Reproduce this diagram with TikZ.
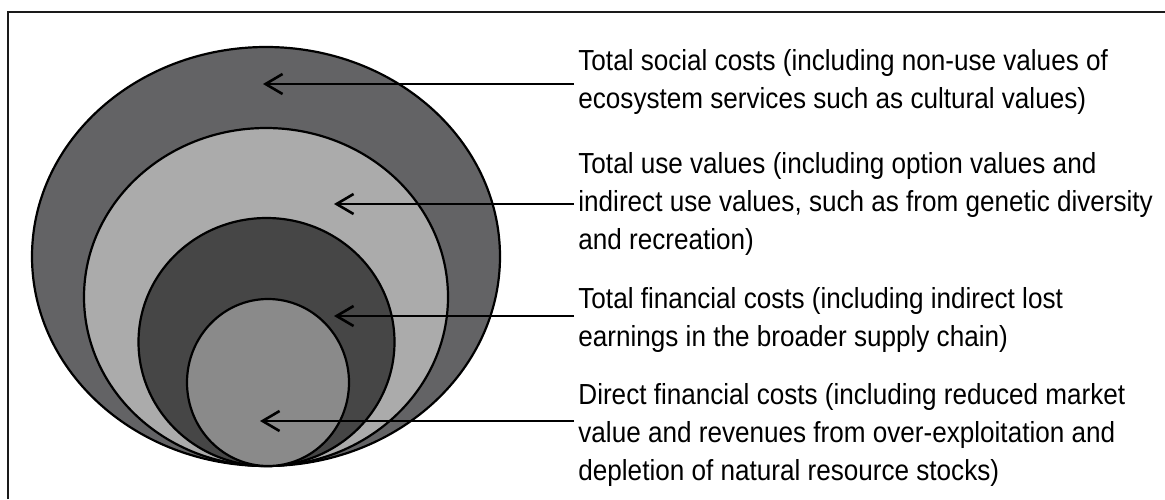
\documentclass[tikz,border=0pt]{standalone}
\usepackage{fontspec}
\newfontfamily\labelfont{Liberation Sans}[FakeStretch=0.9]
\usetikzlibrary{arrows.meta,positioning,shapes.geometric}
\definecolor{ringsocial}{HTML}{636365}
\definecolor{ringuse}{HTML}{ABABAB}
\definecolor{ringtotal}{HTML}{464646}
\definecolor{ringdirect}{HTML}{8A8A8A}
\definecolor{bk90}{HTML}{1A1A1A}
\tikzset{
  ring/.style={
    ellipse, draw=black, fill=#1, line width=1.1pt,
    inner sep=0pt
  },
  ring/.default=ringsocial,
  costlabel/.style={
    font=\labelfont\fontsize{14.5}{19}\selectfont, align=left,
    anchor=west, inner sep=2pt
  },
  pointer/.style={
    -{Straight Barb[length=8.5pt,width=10pt]}, line width=1.3pt, color=black
  },
}
\begin{document}
\begin{tikzpicture}[x=0.5pt,y=-0.5pt]
\useasboundingbox (0,0) rectangle (1165,499);
% frame
\draw[line width=1.3pt, bk90] (8,499) -- (8,12) -- (1165,12);
% nested rings, all touching at the bottom
\node[ring=ringsocial, minimum width=234pt, minimum height=209.5pt] (social) at (266,256.5) {};
\node[ring=ringuse, minimum width=182pt, minimum height=169pt] (use) at (266,297) {};
\node[ring=ringtotal, minimum width=128pt, minimum height=124pt] (total) at (266.5,342) {};
\node[ring=ringdirect, minimum width=81pt, minimum height=83.5pt] (direct) at (268,382.5) {};
% labels
\node[costlabel] (socialtxt) at (574,82) {Total social costs (including non-use values of\\ecosystem services such as cultural values)};
\node[costlabel] (usetxt) at (574,204) {Total use values (including option values and\\indirect use values, such as from genetic diversity\\and recreation)};
\node[costlabel] (totaltxt) at (574,320) {Total financial costs (including indirect lost\\earnings in the broader supply chain)};
\node[costlabel] (directtxt) at (574,435) {Direct financial costs (including reduced market\\value and revenues from over-exploitation and\\depletion of natural resource stocks)};
% pointers
\coordinate (socialtip) at (263,84);
\coordinate (usetip) at (334,204);
\coordinate (totaltip) at (334,316);
\coordinate (directtip) at (260,421);
\draw[pointer] (socialtxt.west |- socialtip) -- (socialtip);
\draw[pointer] (usetxt.west |- usetip) -- (usetip);
\draw[pointer] (totaltxt.west |- totaltip) -- (totaltip);
\draw[pointer] (directtxt.west |- directtip) -- (directtip);
\end{tikzpicture}
\end{document}
